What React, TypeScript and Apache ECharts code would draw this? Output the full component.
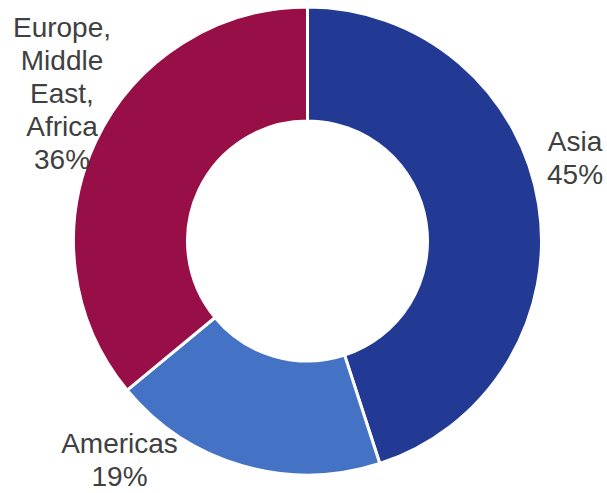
import React, { useEffect, useRef } from "react";
import * as echarts from "echarts";

const categories = ["Asia", "Americas", "Europe,\nMiddle\nEast,\nAfrica"];
const values = [45, 19, 36];
const colors = ["#233A95", "#4472C4", "#970F46"];
const labelPos: [number, number][] = [
  [575, 157.5],
  [119.5, 460],
  [62, 93],
];

export default function App() {
  const ref = useRef<HTMLDivElement>(null);
  useEffect(() => {
    if (!ref.current) return;
    const chart = echarts.init(ref.current, undefined, { renderer: "svg" });
    chart.setOption({
      animation: false,
      backgroundColor: "#ffffff",
      series: [
        {
          type: "pie",
          center: [307.5, 241],
          radius: [120, 234],
          startAngle: 90,
          clockwise: true,
          avoidLabelOverlap: false,
          itemStyle: { borderColor: "#ffffff", borderWidth: 3 },
          label: {
            show: true,
            position: "outside",
            formatter: (p: any) => `${p.name}\n${Math.round(p.value)}%`,
            fontFamily: "Liberation Sans, Arial, sans-serif",
            fontSize: 28,
            lineHeight: 33,
            color: "#404040",
            align: "center",
          },
          labelLine: { show: false },
          labelLayout: (params: any) => {
            const pos = labelPos[params.dataIndex];
            return { x: pos[0], y: pos[1], align: "center", verticalAlign: "middle" };
          },
          data: categories.map((c, i) => ({
            name: c,
            value: values[i],
            itemStyle: { color: colors[i] },
          })),
        },
      ],
    });
    return () => chart.dispose();
  }, []);
  return (
    <div
      ref={ref}
      style={{ position: "fixed", left: 0, top: 0, width: 607, height: 493 }}
    />
  );
}
